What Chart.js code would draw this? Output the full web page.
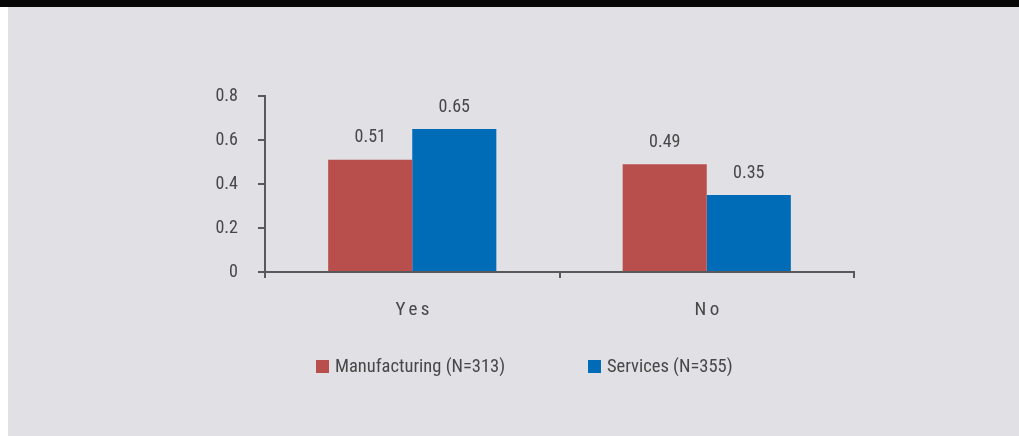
<!DOCTYPE html>
<html>
<head>
<meta charset="utf-8">
<script src="https://cdn.jsdelivr.net/npm/chart.js@4.4.0/dist/chart.umd.min.js"></script>
<style>
  html, body { margin: 0; padding: 0; }
  body { width: 1019px; height: 436px; background: #ffffff; position: relative; overflow: hidden; }
  #topbar { position: absolute; left: 0; top: 0; width: 1019px; height: 7px; background: #070707; }
  #wrap { position: absolute; left: 8px; top: 7px; width: 1011px; height: 429px; background: #e1e0e5; }
</style>
</head>
<body>
<div id="topbar"></div>
<div id="wrap"><canvas id="grafico" width="1011" height="429"></canvas></div>
<script>
// Datos del gráfico
const categorias = ['Yes', 'No'];
const seriesNombres = ['Manufacturing (N=313)', 'Services (N=355)'];
const manufactura = [0.51, 0.49];
const servicios = [0.65, 0.35];
const ticksY = [0, 0.2, 0.4, 0.6, 0.8];

const colores = ['#b84f4c', '#006bb7'];
const gris = '#595959';
const textoGris = '#474747';
const fuente = 'Roboto, "DejaVu Sans Condensed", sans-serif';
// fuente condensada para el canvas
const f = size => 'condensed ' + size + 'px ' + fuente;

// Etiquetas de valores encima de las barras
const etiquetasValores = {
    id: 'etiquetasValores',
    afterDatasetsDraw(chart) {
        const ctx = chart.ctx;
        ctx.save();
        ctx.fillStyle = textoGris;
        ctx.font = f(18);
        ctx.textAlign = 'center';
        ctx.textBaseline = 'middle';
        chart.data.datasets.forEach((ds, i) => {
            chart.getDatasetMeta(i).data.forEach((bar, j) => {
                ctx.fillText(ds.data[j].toFixed(2), bar.x, bar.y - 22);
            });
        });
        ctx.restore();
    }
};

// Etiquetas del eje X con espaciado entre letras
const etiquetasX = {
    id: 'etiquetasX',
    afterDraw(chart) {
        const ctx = chart.ctx;
        const xs = chart.scales.x;
        ctx.save();
        ctx.fillStyle = textoGris;
        ctx.font = f(19);
        ctx.letterSpacing = '3.5px';
        ctx.textAlign = 'center';
        ctx.textBaseline = 'middle';
        categorias.forEach((c, i) => {
            ctx.fillText(c, xs.getPixelForValue(i) + 2, chart.chartArea.bottom + 38);
        });
        ctx.restore();
    }
};

// Leyenda dibujada a mano
const leyenda = {
    id: 'leyenda',
    afterDraw(chart) {
        const ctx = chart.ctx;
        const posiciones = [308, 580];
        const y = chart.chartArea.bottom + 95;
        ctx.save();
        ctx.font = f(18.5);
        ctx.textBaseline = 'middle';
        chart.data.datasets.forEach((ds, i) => {
            ctx.fillStyle = ds.backgroundColor;
            ctx.fillRect(posiciones[i], y - 7, 13, 13);
            ctx.fillStyle = textoGris;
            ctx.fillText(ds.label, posiciones[i] + 19, y);
        });
        ctx.restore();
    }
};

new Chart(document.getElementById('grafico').getContext('2d'), {
    type: 'bar',
    data: {
        labels: categorias,
        datasets: [
            { label: seriesNombres[0], data: manufactura, backgroundColor: colores[0] },
            { label: seriesNombres[1], data: servicios, backgroundColor: colores[1] }
        ]
    },
    options: {
        responsive: false,
        animation: false,
        devicePixelRatio: 1,
        categoryPercentage: 0.571,
        barPercentage: 1.0,
        layout: { padding: { top: 89, right: 165, left: 0, bottom: 0 } },
        plugins: {
            legend: { display: false },
            tooltip: { enabled: false }
        },
        scales: {
            x: {
                offset: true,
                grid: { offset: true, drawOnChartArea: false, tickLength: 6, color: gris, lineWidth: 2 },
                border: { color: gris, width: 2 },
                ticks: { display: false },
                afterFit: scale => { scale.height = 164; }
            },
            y: {
                min: 0,
                max: 0.8,
                afterBuildTicks: scale => { scale.ticks = ticksY.map(v => ({ value: v })); },
                grid: { drawOnChartArea: false, tickLength: 7, color: gris, lineWidth: 2 },
                border: { color: gris, width: 2 },
                ticks: {
                    padding: 20,
                    color: textoGris,
                    font: { family: fuente, size: 18, weight: 'condensed' },
                    callback: v => String(Math.round(v * 10) / 10)
                },
                afterFit: scale => { scale.width = 257; }
            }
        }
    },
    plugins: [etiquetasValores, etiquetasX, leyenda]
});
</script>
</body>
</html>
